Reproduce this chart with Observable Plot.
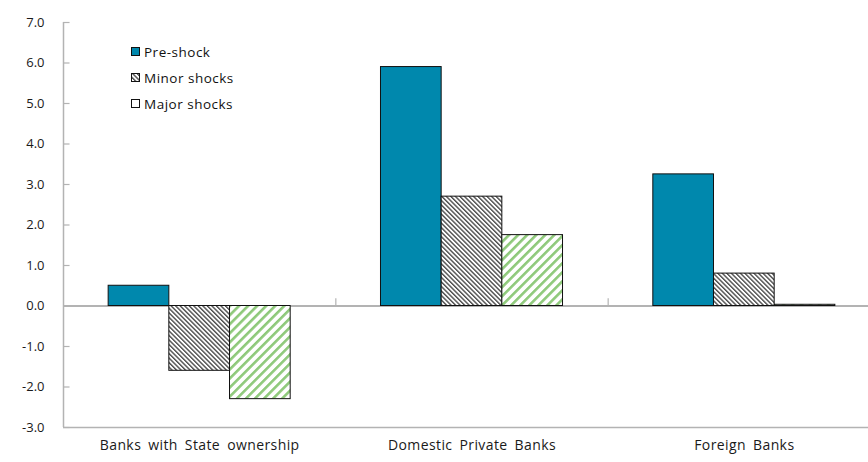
<!DOCTYPE html>
<html><head><meta charset="utf-8">
<script src="https://cdn.jsdelivr.net/npm/d3@7"></script>
<script src="https://cdn.jsdelivr.net/npm/@observablehq/plot@0.6"></script>
<style>
body{margin:0;background:#fff;}
#wrap{position:relative;width:868px;height:462px;font-family:"Open Sans",sans-serif;}
#defs{position:absolute;width:0;height:0;}
#legend{position:absolute;left:131px;top:39px;font-size:13.5px;letter-spacing:0.5px;color:#111;}
.row{height:26px;display:flex;align-items:center;}
.row svg{margin-right:3px;}
#chart [aria-label^="x-axis"] text{font-size:14px;letter-spacing:0.4px;word-spacing:3px;}
</style>
</head><body>
<div id="wrap">
<svg id="defs" width="0" height="0">
  <defs>
    <pattern id="minorHatch" patternUnits="userSpaceOnUse" width="3.2" height="10" patternTransform="rotate(-45)">
      <rect width="3.2" height="10" fill="#ffffff"/>
      <rect width="1.4" height="10" fill="#4d4d4d"/>
    </pattern>
    <pattern id="majorHatch" patternUnits="userSpaceOnUse" width="6.4" height="10" patternTransform="rotate(45)">
      <rect width="6.4" height="10" fill="#ffffff"/>
      <rect width="2.6" height="10" fill="#8ec97a"/>
    </pattern>
  </defs>
</svg>
<div id="chart"></div>
<div id="legend"></div>
</div>
<script>
const categories = ["Banks with State ownership", "Domestic Private Banks", "Foreign Banks"];
const series = ["Pre-shock", "Minor shocks", "Major shocks"];
const preShock = [0.5, 5.9, 3.25];
const minorShocks = [-1.6, 2.7, 0.8];
const majorShocks = [-2.3, 1.75, 0.03];
const yTicks = [-3, -2, -1, 0, 1, 2, 3, 4, 5, 6, 7];
const fills = ["#0088ad", "url(#minorHatch)", "url(#majorHatch)"];

const seriesValues = [preShock, minorShocks, majorShocks];
const data = categories.flatMap((c, i) => seriesValues.map((vals, k) => ({i, k, category: c, series: series[k], value: vals[i]})));

const bw = 0.2228; // bar width as a fraction of one category slot
const gray = "#b3b3b3";

const chart = Plot.plot({
  width: 868,
  height: 462,
  marginLeft: 63,
  marginRight: 0,
  marginTop: 22,
  marginBottom: 35,
  style: {fontFamily: "'Open Sans', sans-serif", fontSize: "13px", color: "#1a1a1a", background: "#fff"},
  x: {domain: [-0.5, 2.5], range: [63, 880], ticks: [0, 1, 2], tickFormat: i => categories[i], tickSize: 0, tickPadding: 13, label: null},
  y: {domain: [-3, 7], ticks: yTicks, tickFormat: d => d.toFixed(1), tickSize: 0, tickPadding: 19, label: null},
  color: {type: "ordinal", domain: series, range: fills},
  marks: [
    Plot.ruleX([-0.5], {y1: -3, y2: 7, stroke: gray, strokeWidth: 1.5}),
    Plot.ruleY(yTicks, {y: d => d, x1: -0.5, x2: -0.5 + 0.024, stroke: gray, strokeWidth: 1.2}),
    Plot.ruleY([-3], {stroke: gray, strokeWidth: 1.5}),
    Plot.ruleY([0], {stroke: gray, strokeWidth: 1.8}),
    Plot.ruleX([0.5, 1.5], {y1: 0, y2: 0.18, stroke: gray, strokeWidth: 1.2}),
    Plot.rectY(data, {
      x1: d => d.i + (d.k - 1.5) * bw,
      x2: d => d.i + (d.k - 0.5) * bw,
      y1: 0,
      y2: "value",
      fill: "series",
      stroke: "#111",
      strokeWidth: 1
    })
  ]
});
document.getElementById("chart").appendChild(chart);

const legend = document.getElementById("legend");
series.forEach((s, k) => {
  const row = document.createElement("div");
  row.className = "row";
  row.innerHTML = `<svg width="10" height="10"><rect x="0.5" y="0.5" width="8" height="8" fill="${k === 2 ? '#fff' : fills[k]}" stroke="#111" stroke-width="1"/></svg><span>${s}</span>`;
  legend.appendChild(row);
});
</script>
</body></html>
